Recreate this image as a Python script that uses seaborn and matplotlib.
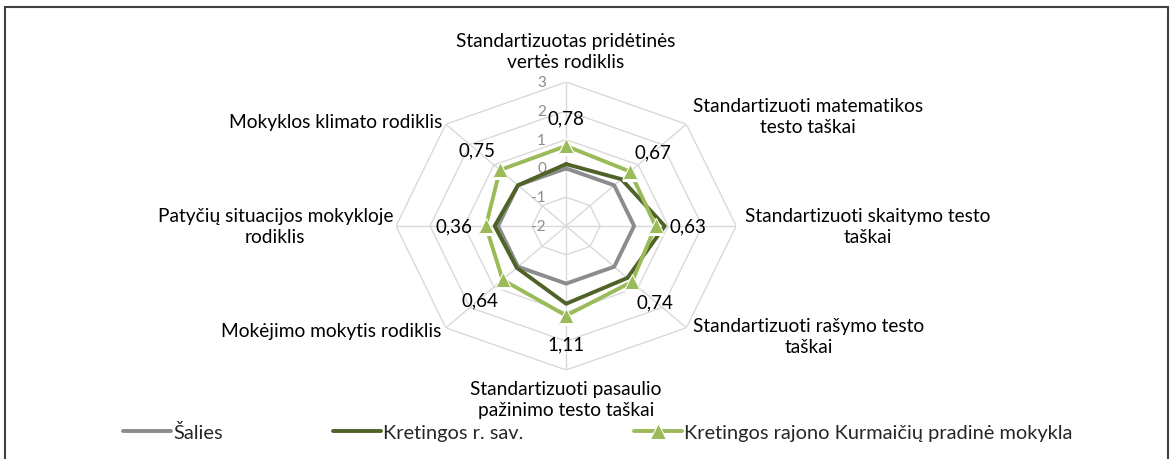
import numpy as np
import pandas as pd
import matplotlib.pyplot as plt
import seaborn as sns

# Radar axes, clockwise from the top
categories = [
    'Standartizuotas pridėtinės\nvertės rodiklis',
    'Standartizuoti matematikos\ntesto taškai',
    'Standartizuoti skaitymo testo\ntaškai',
    'Standartizuoti rašymo testo\ntaškai',
    'Standartizuoti pasaulio\npažinimo testo taškai',
    'Mokėjimo mokytis rodiklis',
    'Patyčių situacijos mokykloje\nrodiklis',
    'Mokyklos klimato rodiklis',
]
salies = [0, 0, 0, 0, 0, 0, 0, 0]
kretingos_sav = [0.15, 0.3, 0.9, 0.55, 0.7, 0.05, 0.1, 0.0]
kurmaiciu = [0.78, 0.67, 0.63, 0.74, 1.11, 0.64, 0.36, 0.75]
series_names = ['Šalies', 'Kretingos r. sav.', 'Kretingos rajono Kurmaičių pradinė mokykla']
ring_ticks = [-2, -1, 0, 1, 2, 3]

sns.set_theme(style='white')
plt.rcParams['font.family'] = ['Lato', 'DejaVu Sans']

fig = plt.figure(figsize=(11.73, 4.6), dpi=100)
ax = fig.add_axes([0.3376, 0.1935, 0.29, 0.626], projection='polar')
ax.set_aspect('auto')
ax.set_theta_zero_location('N')
ax.set_theta_direction(-1)
ax.set_ylim(ring_ticks[0], ring_ticks[-1])
ax.grid(False)
ax.spines['polar'].set_visible(False)
ax.set_xticks([])
ax.set_yticks([])
ax.set_facecolor('none')

n = len(categories)
theta = np.linspace(0, 2 * np.pi, n, endpoint=False)
closed = np.append(theta, theta[0])

# octagon grid
grid_col = '#d9d9d9'
for r in ring_ticks[1:]:
    ax.plot(closed, [r] * (n + 1), color=grid_col, lw=1, zorder=1)
for t in theta:
    ax.plot([t, t], [ring_ticks[0], ring_ticks[-1]], color=grid_col, lw=1, zorder=1)

# ring labels
for r in ring_ticks:
    ax.annotate(str(r), xy=(0, r), xytext=(-20, 0), textcoords='offset pixels',
                ha='right', va='center', fontsize=11, color='#8c8c8c', zorder=2)

# series
df = pd.DataFrame({
    'theta': np.tile(closed, 3),
    'value': np.concatenate([np.append(s, s[0]) for s in (salies, kretingos_sav, kurmaiciu)]),
    'series': np.repeat(series_names, n + 1),
})
styles = {
    series_names[0]: dict(color='#8c8c8c', marker=None),
    series_names[1]: dict(color='#4f6228', marker=None),
    series_names[2]: dict(color='#9bbb59', marker='^', markersize=11),
}
for name in series_names:
    sub = df[df['series'] == name]
    sns.lineplot(data=sub, x='theta', y='value', ax=ax, sort=False, estimator=None,
                 lw=2.8, label=name, zorder=3, **styles[name])
ax.set_xlabel('')
ax.set_ylabel('')
handles, labels = ax.get_legend_handles_labels()
ax.get_legend().remove()

# category labels
label_pos = [
    (0, 31, 'center'), (7, 8, 'left'), (9, 0, 'left'), (7, -8, 'left'),
    (0, -29, 'center'), (-4, -3, 'right'), (-3, 0, 'right'), (-3, 3, 'right'),
]
for t, text, (dx, dy, ha) in zip(theta, categories, label_pos):
    ax.annotate(text, xy=(t, ring_ticks[-1]), xytext=(dx, dy), textcoords='offset pixels',
                ha=ha, va='center', multialignment='center', fontsize=13.8,
                linespacing=1.3, color='black')

# value labels of the school
for t, v in zip(theta, kurmaiciu):
    ax.annotate(f'{v:.2f}'.replace('.', ','), xy=(t, v),
                xytext=(32 * np.sin(t), 28 * np.cos(t)), textcoords='offset pixels',
                ha='center', va='center', fontsize=13.5, color='black', zorder=4)

fig.legend(handles, labels, loc='center', bbox_to_anchor=(597.5 / 1173, 1 - 433 / 460),
           ncol=3, frameon=False, handlelength=2.4, handletextpad=0.12,
           columnspacing=5.5, fontsize=14.4)

fig.add_artist(plt.Rectangle((5 / 1173, -0.05), 1163 / 1173, 1.0326, fill=False,
                             ec='#404040', lw=1.5, transform=fig.transFigure))

fig.savefig('out.png', dpi=100)
